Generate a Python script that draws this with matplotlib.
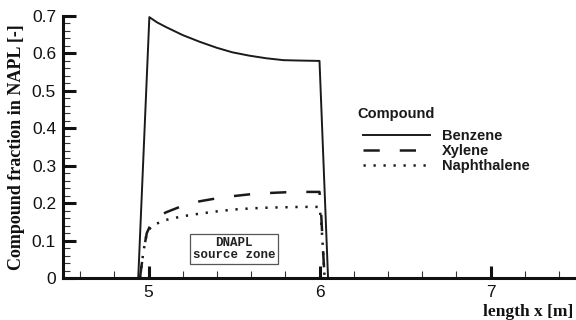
import matplotlib
matplotlib.use("Agg")
import matplotlib.pyplot as plt
from matplotlib.ticker import MultipleLocator

# Compound fractions in the NAPL along the column
x_benzene = [4.94, 5.005, 5.05, 5.10, 5.15, 5.20, 5.30, 5.40, 5.49, 5.59, 5.69, 5.79, 5.88, 6.00, 6.05]
y_benzene = [0.0, 0.697, 0.683, 0.671, 0.660, 0.649, 0.631, 0.615, 0.603, 0.594, 0.587, 0.582, 0.581, 0.580, 0.0]

x_xylene = [4.95, 4.97, 4.99, 5.02, 5.10, 5.20, 5.30, 5.40, 5.50, 5.60, 5.70, 5.80, 5.90, 6.00, 6.01, 6.02, 6.03]
y_xylene = [0.0, 0.07, 0.12, 0.15, 0.175, 0.193, 0.205, 0.213, 0.219, 0.224, 0.227, 0.229, 0.230, 0.230, 0.17, 0.08, 0.0]

x_naph = [4.95, 4.97, 4.99, 5.02, 5.10, 5.20, 5.30, 5.40, 5.50, 5.60, 5.70, 5.80, 5.90, 6.00, 6.01, 6.02, 6.03]
y_naph = [0.0, 0.07, 0.12, 0.14, 0.155, 0.165, 0.172, 0.178, 0.183, 0.186, 0.188, 0.189, 0.190, 0.190, 0.15, 0.08, 0.0]

series_names = ["Benzene", "Xylene", "Naphthalene"]
x_ticks = [5, 6, 7]
y_ticks = [0, 0.1, 0.2, 0.3, 0.4, 0.5, 0.6, 0.7]
y_ticklabels = ["0", "0.1", "0.2", "0.3", "0.4", "0.5", "0.6", "0.7"]

sans = "Liberation Sans"
serif = "Liberation Serif"

fig = plt.figure(figsize=(5.76, 3.2), dpi=100)
ax = fig.add_axes([63 / 576, 1 - 278 / 320, 513 / 576, 262 / 320])

ax.plot(x_benzene, y_benzene, color="#1a1a1a", lw=1.4, ls="-", label=series_names[0])
ax.plot(x_xylene, y_xylene, color="#1a1a1a", lw=1.8, ls=(0, (6.5, 8)), label=series_names[1])
ax.plot(x_naph, y_naph, color="#1a1a1a", lw=1.8, ls=(0, (0.9, 3.1)), label=series_names[2])

ax.set_xlim(4.5, 7.5)
ax.set_ylim(0, 0.7)

ax.set_xticks(x_ticks)
ax.set_yticks(y_ticks)
ax.set_yticklabels(y_ticklabels)
ax.xaxis.set_minor_locator(MultipleLocator(0.2))
ax.yaxis.set_minor_locator(MultipleLocator(0.02))

for side in ["top", "right"]:
    ax.spines[side].set_visible(False)
for side in ["left", "bottom"]:
    ax.spines[side].set_linewidth(2.2)
    ax.spines[side].set_color("#111111")

ax.tick_params(which="major", direction="in", length=9, width=2.2, color="#111111",
               labelsize=12.5, pad=5)
ax.tick_params(which="minor", direction="in", length=5, width=0.8, color="#333333")
for lab in ax.get_xticklabels() + ax.get_yticklabels():
    lab.set_fontfamily(sans)
    lab.set_color("#111111")

ax.set_ylabel("Compound fraction in NAPL [-]", fontfamily=serif, fontweight="bold",
              fontsize=13, color="#111111", labelpad=5)
fig.text(573 / 576, 1 - 316 / 320, "length x [m]", fontfamily=serif, fontweight="bold",
         fontsize=12.5, color="#111111", ha="right", va="baseline")

leg = ax.legend(loc="upper left", bbox_to_anchor=(0.585, 0.568), frameon=False,
                prop={"family": sans, "weight": "bold", "size": 10.5},
                handlelength=4.6, handletextpad=0.8, labelspacing=0.07,
                borderpad=0, borderaxespad=0)
for t in leg.get_texts():
    t.set_color("#1a1a1a")
ax.text(0.573, 0.626, "Compound", transform=ax.transAxes, fontfamily=sans,
        fontweight="bold", fontsize=10.5, color="#1a1a1a", ha="left", va="center")

ax.text(5.5, 0.077, "DNAPL\nsource zone", fontfamily="Liberation Mono", fontweight="bold",
        fontsize=9, color="#222222", ha="center", va="center", linespacing=1.0,
        bbox=dict(boxstyle="square,pad=0.25", fc="white", ec="#555555", lw=0.9))

fig.savefig("out.png", dpi=100)
